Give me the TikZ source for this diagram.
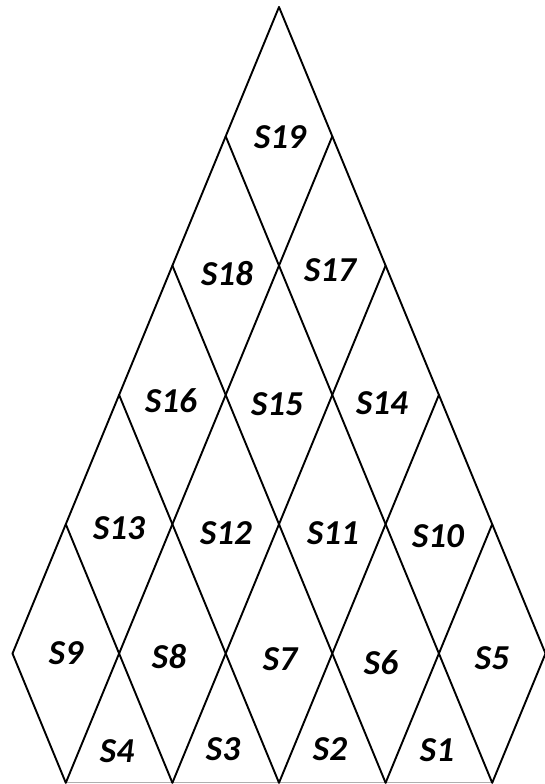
\documentclass[tikz,border=0pt]{standalone}
\usepackage{fontspec}
\setmainfont{Carlito}
\tikzset{
  edge/.style={line width=1.9pt, line cap=round, line join=round},
  baseline/.style={line width=0.9pt, draw={rgb,255:red,175;green,175;blue,175}},
  lbl/.style={font=\fontsize{35}{40}\selectfont\bfseries\itshape, inner sep=0pt}
}
\begin{document}
\begin{tikzpicture}[x=1pt,y=-1pt]
\useasboundingbox (0,0) rectangle (545,784);
\clip (0,0) rectangle (545,784);
\foreach \k in {0,...,6}{
  \foreach \i in {0,...,\k}{
    \coordinate (p-\k-\i) at ({279+(\i-\k/2)*106.6},{7+\k*129.3});
  }
}
% bottom line
\draw[baseline] (p-6-1) -- (p-6-5);
% down-right lines
\draw[edge] (p-0-0) -- (p-5-5);
\draw[edge] (p-1-0) -- (p-6-5);
\draw[edge] (p-2-0) -- (p-6-4);
\draw[edge] (p-3-0) -- (p-6-3);
\draw[edge] (p-4-0) -- (p-6-2);
\draw[edge] (p-5-0) -- (p-6-1);
% down-left lines
\draw[edge] (p-0-0) -- (p-5-0);
\draw[edge] (p-1-1) -- (p-6-1);
\draw[edge] (p-2-2) -- (p-6-2);
\draw[edge] (p-3-3) -- (p-6-3);
\draw[edge] (p-4-4) -- (p-6-4);
\draw[edge] (p-5-5) -- (p-6-5);
% labels
\node[lbl] (s19) at (280,137) {S19};
\node[lbl] (s18) at (227,274) {S18};
\node[lbl] (s17) at (330,270) {S17};
\node[lbl] (s16) at (171,401) {S16};
\node[lbl] (s15) at (277,404) {S15};
\node[lbl] (s14) at (382,403) {S14};
\node[lbl] (s13) at (119,528) {S13};
\node[lbl] (s12) at (226,533) {S12};
\node[lbl] (s11) at (333,533) {S11};
\node[lbl] (s10) at (438,536) {S10};
\node[lbl] (s9) at (66,653) {S9};
\node[lbl] (s8) at (169,657) {S8};
\node[lbl] (s7) at (280,659) {S7};
\node[lbl] (s6) at (381,663) {S6};
\node[lbl] (s5) at (492,658) {S5};
\node[lbl] (s4) at (117,751) {S4};
\node[lbl] (s3) at (223,749) {S3};
\node[lbl] (s2) at (330,749) {S2};
\node[lbl] (s1) at (437,750) {S1};
\end{tikzpicture}
\end{document}
